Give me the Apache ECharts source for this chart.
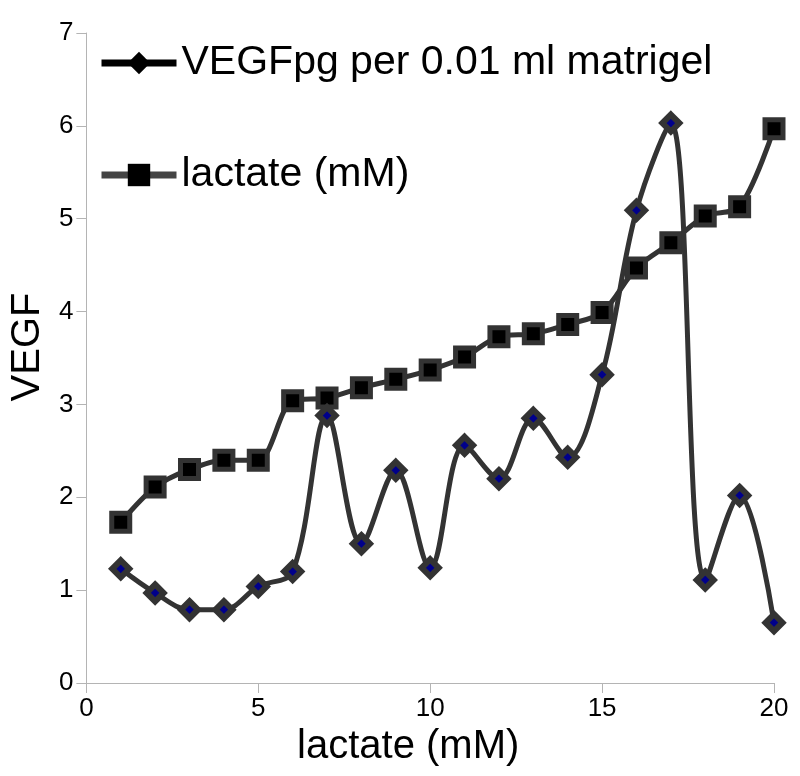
<!DOCTYPE html>
<html>
<head>
<meta charset="utf-8">
<script src="https://cdn.jsdelivr.net/npm/echarts@6/dist/echarts.min.js"></script>
<style>
html,body{margin:0;padding:0;background:#fff;}
#main{width:800px;height:776px;}
</style>
</head>
<body>
<div id="main"></div>
<script>
// x positions (lactate, mM)
var xValues = [1,2,3,4,5,6,7,8,9,10,11,12,13,14,15,16,17,18,19,20];
// VEGF pg per 0.01 ml matrigel
var vegfValues = [1.23,0.97,0.79,0.79,1.04,1.2,2.88,1.5,2.29,1.24,2.56,2.2,2.85,2.43,3.32,5.09,6.03,1.11,2.02,0.65];
// lactate (mM)
var lactateValues = [1.73,2.11,2.3,2.4,2.4,3.04,3.07,3.18,3.27,3.37,3.51,3.73,3.76,3.86,3.99,4.47,4.74,5.03,5.13,5.97];
var xTicks = [0,5,10,15,20];
var yTicks = [0,1,2,3,4,5,6,7];

var FONT = '"Liberation Sans", Arial, sans-serif';

function pairs(xs, ys){
	var out = [];
	for (var i = 0; i < xs.length; i++) {
		out.push([xs[i], ys[i]]);
	}
	return out;
}

var chart = echarts.init(document.getElementById('main'));
var option = {
	animation: false,
	backgroundColor: '#fff',
	grid: {
		left: 86,
		right: 26,
		top: 33,
		bottom: 93
	},
	legend: {
		orient: 'vertical',
		left: 93,
		top: 35,
		itemWidth: 75,
		itemHeight: 28,
		itemGap: 66,
		selectedMode: false,
		textStyle: {
			fontFamily: FONT,
			fontSize: 41,
			color: '#000',
			lineHeight: 46,
			rich: {
				a: {fontFamily: FONT, fontSize: 41, color: '#000', lineHeight: 46},
				b: {fontFamily: FONT, fontSize: 41, color: '#000', lineHeight: 46}
			}
		},
		formatter: function(name){
			if (name === 'VEGF') {
				return '{a|VEGF}{b|pg per 0.01 ml matrigel}';
			}
			return '{a|' + name + '}';
		},
		data: [
			{
				name: 'VEGF',
				itemStyle: {color: '#000', borderWidth: 0},
				lineStyle: {color: '#000', width: 7}
			},
			{
				name: 'lactate (mM)',
				itemStyle: {color: '#000', borderWidth: 0},
				lineStyle: {color: '#444', width: 7}
			}
		]
	},
	xAxis: {
		type: 'value',
		min: xTicks[0],
		max: xTicks[xTicks.length - 1],
		interval: 5,
		name: 'lactate (mM)',
		nameLocation: 'middle',
		nameGap: 38,
		nameTextStyle: {
			fontFamily: FONT,
			fontSize: 40,
			color: '#000',
			padding: [0, 44, 0, 0]
		},
		axisLine: {lineStyle: {color: '#b4b4b4', width: 1}},
		axisTick: {show: true, length: 10, lineStyle: {color: '#b4b4b4'}},
		axisLabel: {
			fontFamily: FONT,
			fontSize: 26,
			color: '#000',
			margin: 13
		},
		splitLine: {show: false}
	},
	yAxis: {
		type: 'value',
		min: yTicks[0],
		max: yTicks[yTicks.length - 1],
		interval: 1,
		name: 'VEGF',
		nameLocation: 'middle',
		nameGap: 25,
		nameTextStyle: {
			fontFamily: FONT,
			fontSize: 40,
			color: '#000',
			padding: [0, 0, 0, 22]
		},
		axisLine: {show: true, lineStyle: {color: '#b4b4b4', width: 1}},
		axisTick: {show: true, length: 10, lineStyle: {color: '#b4b4b4'}},
		axisLabel: {
			fontFamily: FONT,
			fontSize: 26,
			color: '#000',
			margin: 13
		},
		splitLine: {show: false}
	},
	series: [
		{
			name: 'lactate (mM)',
			type: 'line',
			smooth: 0.3,
			data: pairs(xValues, lactateValues),
			symbol: 'rect',
			symbolSize: 18,
			lineStyle: {color: '#333', width: 5},
			itemStyle: {color: '#000', borderColor: '#333', borderWidth: 5},
			z: 2
		},
		{
			name: 'VEGF',
			type: 'line',
			smooth: 0.35,
			data: pairs(xValues, vegfValues),
			symbol: 'diamond',
			symbolSize: 17,
			lineStyle: {color: '#333', width: 5},
			itemStyle: {color: '#00008b', borderColor: '#333', borderWidth: 6},
			z: 3
		}
	]
};
chart.setOption(option);
</script>
</body>
</html>
